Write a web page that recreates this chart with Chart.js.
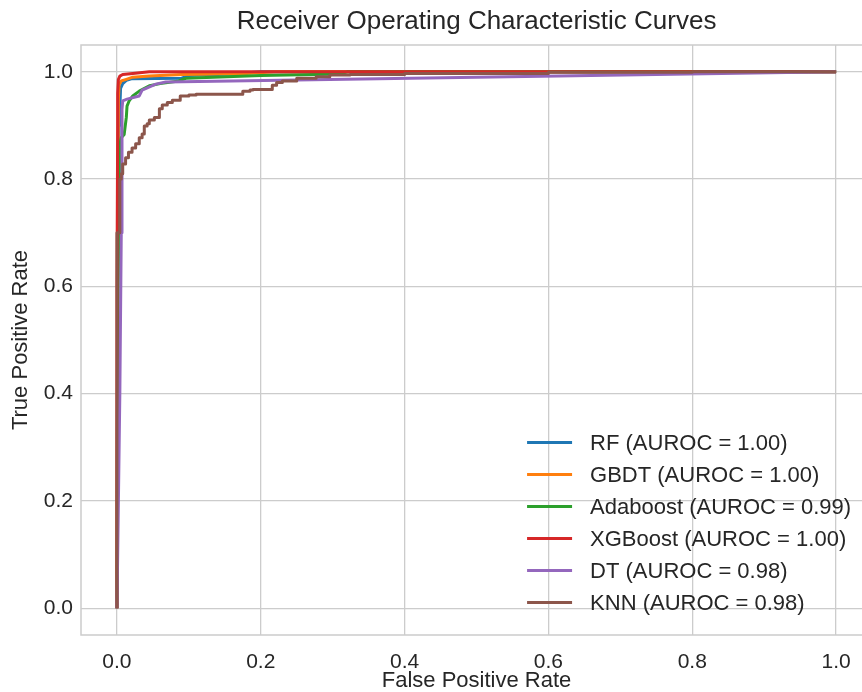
<!DOCTYPE html>
<html>
<head>
<meta charset="utf-8">
<script src="https://cdn.jsdelivr.net/npm/chart.js@4.4.1/dist/chart.umd.min.js"></script>
<style>
  body { margin: 0; background: #fff; }
</style>
</head>
<body>
<canvas id="roc" width="862" height="692"></canvas>
<script>
const models = ["RF", "GBDT", "Adaboost", "XGBoost", "DT", "KNN"];
const aurocs = ["1.00", "1.00", "0.99", "1.00", "0.98", "0.98"];
const colors = ["#1f77b4", "#ff7f0e", "#2ca02c", "#d62728", "#9467bd", "#8c564b"];
const axisTicks = [0, 0.2, 0.4, 0.6, 0.8, 1.0];

// values
const fprRF = [0, 0.001, 0.003, 0.004, 0.005, 0.008, 0.013, 0.02, 0.09, 0.1, 0.16, 0.2, 1];
const tprRF = [0, 0.6, 0.9, 0.93, 0.969, 0.978, 0.984, 0.987, 0.988, 0.993, 0.996, 1.0, 1];

const fprGBDT = [0, 0.001, 0.002, 0.003, 0.006, 0.013, 0.022, 0.045, 0.09, 0.18, 0.22, 1];
const tprGBDT = [0, 0.7, 0.95, 0.976, 0.983, 0.986, 0.99, 0.992, 0.995, 0.997, 1.0, 1];

const fprAda = [0, 0.001, 0.003, 0.004, 0.006, 0.01, 0.013, 0.014, 0.017, 0.022, 0.031, 0.045, 0.06, 0.086, 0.096, 0.2, 0.31, 0.32, 1];
const tprAda = [0, 0.5, 0.8, 0.865, 0.877, 0.883, 0.915, 0.936, 0.946, 0.955, 0.964, 0.974, 0.978, 0.983, 0.988, 0.993, 0.996, 1.0, 1];

const fprXGB = [0, 0, 0.001, 0.001, 0.002, 0.004, 0.008, 0.022, 0.045, 1];
const tprXGB = [0, 0.6, 0.9, 0.96, 0.986, 0.992, 0.995, 0.997, 1.0, 1];

const fprDT = [0, 0.004, 0.006, 0.007, 0.008, 0.014, 0.031, 0.035, 0.054, 0.068, 1];
const tprDT = [0, 0.4, 0.7, 0.93, 0.946, 0.949, 0.955, 0.966, 0.977, 0.981, 1];

const fprKNN = [0, 0, 0.004, 0.004, 0.006, 0.008, 0.012, 0.016, 0.021, 0.026, 0.031, 0.035, 0.038, 0.042, 0.045, 0.052, 0.059, 0.063, 0.07, 0.077, 0.088, 0.1, 0.11, 0.175, 0.185, 0.189, 0.216, 0.222, 0.23, 0.25, 0.277, 0.296, 0.324, 0.4, 0.6, 0.8, 1];
const tprKNN = [0, 0.70, 0.70, 0.784, 0.80, 0.81, 0.828, 0.84, 0.85, 0.858, 0.866, 0.877, 0.884, 0.899, 0.903, 0.91, 0.915, 0.931, 0.938, 0.943, 0.947, 0.955, 0.957, 0.958, 0.964, 0.966, 0.967, 0.975, 0.98, 0.983, 0.988, 0.991, 0.994, 0.995, 0.997, 0.999, 1];

const fprs = [fprRF, fprGBDT, fprAda, fprXGB, fprDT, fprKNN];
const tprs = [tprRF, tprGBDT, tprAda, tprXGB, tprDT, tprKNN];

const FONT = "'Liberation Sans', Arial, sans-serif";
const INK = "#262626";
const GRID = "#cccccc";

function zip(xs, ys) {
  return xs.map((x, i) => ({ x: x, y: ys[i] }));
}

const datasets = models.map((m, i) => ({
  label: `${m} (AUROC = ${aurocs[i]})`,
  data: zip(fprs[i], tprs[i]),
  borderColor: colors[i],
  backgroundColor: colors[i],
  borderWidth: 3,
  borderJoinStyle: "round",
  pointRadius: 0,
  showLine: true,
  stepped: m === "KNN" ? "after" : false,
  order: models.length - i
}));

// title and x label centred on the full axes (which run past the right edge),
// spines, and the legend in the lower right
const decor = {
  id: "decor",
  afterDraw(chart) {
    const ctx = chart.ctx;
    const ca = chart.chartArea;
    ctx.save();
    ctx.strokeStyle = GRID;
    ctx.lineWidth = 1.5;
    ctx.beginPath();
    ctx.moveTo(chart.width, ca.top);
    ctx.lineTo(ca.left, ca.top);
    ctx.lineTo(ca.left, ca.bottom);
    ctx.lineTo(chart.width, ca.bottom);
    ctx.stroke();

    const xs = chart.scales.x;
    const midX = (xs.getPixelForValue(-0.05) + xs.getPixelForValue(1.05)) / 2;
    ctx.fillStyle = INK;
    ctx.textAlign = "center";
    ctx.textBaseline = "middle";
    ctx.font = `26px ${FONT}`;
    ctx.fillText("Receiver Operating Characteristic Curves", midX, 22);
    ctx.font = `22px ${FONT}`;
    ctx.fillText("False Positive Rate", midX, 681);

    ctx.textAlign = "left";
    const x0 = xs.getPixelForValue(1.05) - 345;
    const n = chart.data.datasets.length;
    chart.data.datasets.forEach((ds, i) => {
      const y = ca.bottom - 32.5 - 32 * (n - 1 - i);
      ctx.strokeStyle = ds.borderColor;
      ctx.lineWidth = 3;
      ctx.beginPath();
      ctx.moveTo(x0, y);
      ctx.lineTo(x0 + 45, y);
      ctx.stroke();
      ctx.fillStyle = INK;
      ctx.fillText(ds.label, x0 + 63, y + 1);
    });
    ctx.restore();
  }
};

new Chart(document.getElementById("roc"), {
  type: "scatter",
  data: { datasets: datasets },
  options: {
    responsive: false,
    animation: false,
    devicePixelRatio: 1,
    layout: { padding: { top: 45, left: 0, right: 0, bottom: 0 } },
    plugins: {
      legend: { display: false },
      tooltip: { enabled: false },
      title: { display: false }
    },
    scales: {
      x: {
        type: "linear",
        min: -0.05,
        max: 1.036,
        afterBuildTicks: (axis) => { axis.ticks = axisTicks.map(v => ({ value: v })); },
        afterFit: (axis) => {
          axis.height = 57;
          axis.paddingLeft = 0;
          axis.paddingRight = 0;
        },
        grid: { color: GRID, lineWidth: 1.3, drawTicks: false },
        border: { display: false },
        ticks: {
          padding: 15,
          color: INK,
          font: { family: FONT, size: 21 },
          callback: (v) => v.toFixed(1)
        },
        title: { display: false }
      },
      y: {
        type: "linear",
        min: -0.05,
        max: 1.05,
        afterBuildTicks: (axis) => { axis.ticks = axisTicks.map(v => ({ value: v })); },
        afterFit: (axis) => {
          axis.width = 81;
          axis.paddingTop = 0;
          axis.paddingBottom = 0;
        },
        grid: { color: GRID, lineWidth: 1.3, drawTicks: false },
        border: { display: false },
        ticks: {
          padding: 8,
          color: INK,
          font: { family: FONT, size: 21 },
          callback: (v) => v.toFixed(1)
        },
        title: {
          display: true,
          text: "True Positive Rate",
          color: INK,
          font: { family: FONT, size: 22, lineHeight: 1 },
          padding: { top: 10, bottom: 0 }
        }
      }
    }
  },
  plugins: [decor]
});
</script>
</body>
</html>
